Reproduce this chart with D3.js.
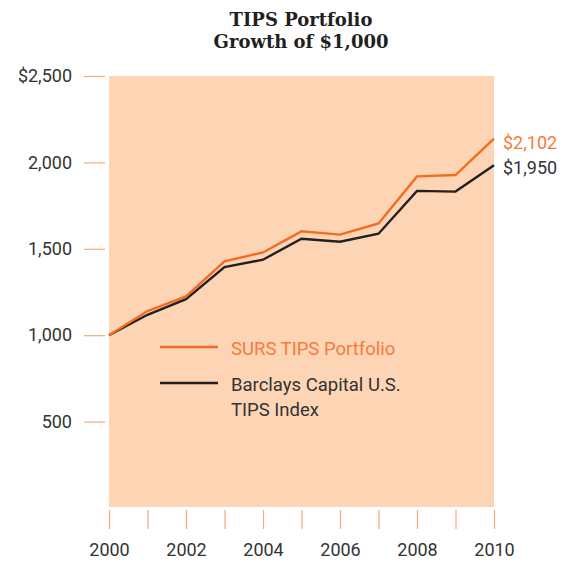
<!DOCTYPE html>
<html><head><meta charset="utf-8">
<script src="https://cdn.jsdelivr.net/npm/d3@7"></script>
<style>body{margin:0;background:#fff;} svg{display:block;}</style>
</head><body>
<svg id="c" width="574" height="563"></svg>
<script>
const years = [2000,2001,2002,2003,2004,2005,2006,2007,2008,2009,2010];
const surs = [1000,1140,1224,1427,1479,1601,1582,1647,1919,1927,2138];
const barclays = [1000,1118,1209,1394,1437,1558,1541,1587,1835,1831,1983];
const seriesNames = ["SURS TIPS Portfolio", ["Barclays Capital U.S.","TIPS Index"]];
const endLabels = ["$2,102","$1,950"];
const yTicks = [500,1000,1500,2000,2500];
const xTickLabels = [2000,2002,2004,2006,2008,2010];
const titleLines = ["TIPS Portfolio","Growth of $1,000"];

const ORANGE="#f26d21", DARK="#231f20", BG="#fdd5b5", TICK="#f9a878", TXT="#333333";
const svg = d3.select("#c");
const x = d3.scaleLinear().domain([2000,2010]).range([109,494]);
const y = d3.scaleLinear().domain([0,2500]).range([508,76]);
const font = "Roboto, 'DejaVu Sans', sans-serif";

svg.append("rect").attr("x",x(2000)).attr("y",y(2500)).attr("width",x(2010)-x(2000)).attr("height",507-y(2500)).attr("fill",BG);

// title
svg.selectAll("text.title").data(titleLines).enter().append("text")
  .attr("x",301).attr("y",(d,i)=>26+i*22).attr("text-anchor","middle")
  .attr("font-family","'DejaVu Serif', serif").attr("font-weight","bold").attr("font-size",18)
  .attr("fill",DARK).text(d=>d);

// y axis ticks
const yAxis = d3.axisLeft(y).tickValues(yTicks).tickSize(21).tickPadding(12)
  .tickFormat(d=> d===2500 ? "$2,500" : d3.format(",")(d));
const ga = svg.append("g").attr("transform","translate(105,0)").call(yAxis);
ga.select(".domain").remove();
ga.selectAll("line").attr("stroke",TICK).attr("stroke-width",1.2);
ga.selectAll("text").attr("font-family",font).attr("font-size",18).attr("fill",TXT);

// x axis ticks
const xAxis = d3.axisBottom(x).tickValues(years).tickSize(19).tickFormat(d=> xTickLabels.includes(d)? d : "");
const gx = svg.append("g").attr("transform","translate(0,510)").call(xAxis);
gx.select(".domain").remove();
gx.selectAll("line").attr("stroke",TICK).attr("stroke-width",1.2);
gx.selectAll("text").attr("font-family",font).attr("font-size",18).attr("fill",TXT).attr("dy","1.35em");

const line = d3.line().x((d,i)=>x(years[i])).y(d=>y(d));
svg.append("path").datum(barclays).attr("d",line).attr("fill","none").attr("stroke",DARK).attr("stroke-width",2.4);
svg.append("path").datum(surs).attr("d",line).attr("fill","none").attr("stroke",ORANGE).attr("stroke-width",2.4);

// end labels
svg.append("text").attr("x",503).attr("y",149).attr("font-family",font).attr("font-size",18).attr("fill","#f47c3c").text(endLabels[0]);
svg.append("text").attr("x",503).attr("y",174).attr("font-family",font).attr("font-size",18).attr("fill",TXT).text(endLabels[1]);

// legend
svg.append("line").attr("x1",160).attr("x2",218).attr("y1",347).attr("y2",347).attr("stroke",ORANGE).attr("stroke-width",2.4);
svg.append("text").attr("x",231).attr("y",355).attr("font-family",font).attr("font-size",18.5).attr("fill","#f47c3c").text(seriesNames[0]);
svg.append("line").attr("x1",160).attr("x2",218).attr("y1",383).attr("y2",383).attr("stroke",DARK).attr("stroke-width",2.4);
svg.selectAll("text.leg2").data(seriesNames[1]).enter().append("text")
  .attr("x",231).attr("y",(d,i)=>391+i*25).attr("font-family",font).attr("font-size",18.5).attr("fill",TXT).text(d=>d);
</script>
</body></html>
